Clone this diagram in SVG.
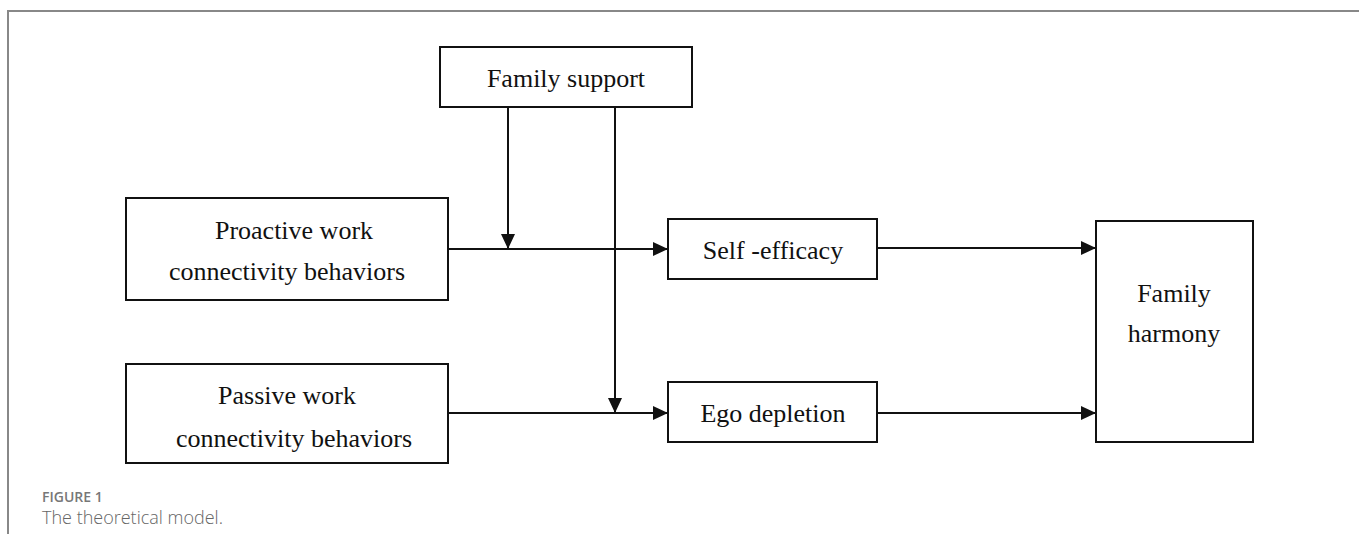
<svg xmlns="http://www.w3.org/2000/svg" width="1359" height="546" viewBox="0 0 1359 546">
<style>
.box{fill:#fff;stroke:#111;stroke-width:2}
.t{font-family:"Liberation Serif","Times New Roman",serif;font-size:26px;fill:#111;text-anchor:middle}
.c{stroke:#111;stroke-width:2;fill:none}
.frame{stroke:#888;stroke-width:2;fill:none}
</style>
<defs>
<marker id="ah" markerUnits="userSpaceOnUse" markerWidth="16" markerHeight="14" refX="15" refY="7" orient="auto">
<path d="M0,0 L15,7 L0,14 Z" fill="#111"/>
</marker>
</defs>
<rect width="1359" height="546" fill="#fff"/>
<path class="frame" d="M8,534 V11 H1359"/>
<g id="connectors">
<line class="c" x1="508" y1="107" x2="508" y2="249" marker-end="url(#ah)"/>
<line class="c" x1="615" y1="107" x2="615" y2="413" marker-end="url(#ah)"/>
<line class="c" x1="448" y1="249" x2="668" y2="249" marker-end="url(#ah)"/>
<line class="c" x1="448" y1="413" x2="668" y2="413" marker-end="url(#ah)"/>
<line class="c" x1="877" y1="248" x2="1096" y2="248" marker-end="url(#ah)"/>
<line class="c" x1="877" y1="413" x2="1096" y2="413" marker-end="url(#ah)"/>
</g>
<g id="family-support">
<rect class="box" x="440" y="47" width="252" height="60"/>
<text class="t" x="566" y="87">Family support</text>
</g>
<g id="proactive">
<rect class="box" x="126" y="198" width="322" height="102"/>
<text class="t" x="294" y="239">Proactive work</text>
<text class="t" x="287" y="280">connectivity behaviors</text>
</g>
<g id="passive">
<rect class="box" x="126" y="364" width="322" height="99"/>
<text class="t" x="287" y="404">Passive work</text>
<text class="t" x="294" y="447">connectivity behaviors</text>
</g>
<g id="self-efficacy">
<rect class="box" x="668" y="219" width="209" height="60"/>
<text class="t" x="773" y="259">Self -efficacy</text>
</g>
<g id="ego-depletion">
<rect class="box" x="668" y="382" width="209" height="60"/>
<text class="t" x="773" y="422">Ego depletion</text>
</g>
<g id="family-harmony">
<rect class="box" x="1096" y="221" width="157" height="221"/>
<text class="t" x="1174" y="302">Family</text>
<text class="t" x="1174" y="342">harmony</text>
</g>
<g id="caption">
<text x="42" y="502" font-family="'Open Sans',sans-serif" font-size="14" font-weight="600" fill="#777">FIGURE 1</text>
<text x="42" y="524" font-family="'Open Sans',sans-serif" font-size="18" font-weight="300" fill="#666">The theoretical model.</text>
</g>
</svg>
